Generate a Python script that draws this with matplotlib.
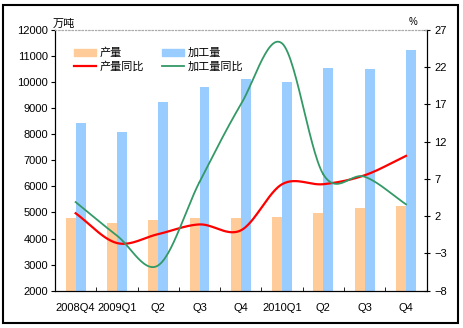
import numpy as np
import matplotlib.pyplot as plt
from matplotlib.patches import Rectangle
from matplotlib.lines import Line2D
from matplotlib.patches import Patch

plt.rcParams['font.family'] = ['Liberation Sans', 'Noto Sans CJK SC', 'DejaVu Sans']
cjk = ['Noto Sans CJK SC', 'DejaVu Sans']

quarters = ['2008Q4', '2009Q1', 'Q2', 'Q3', 'Q4', '2010Q1', 'Q2', 'Q3', 'Q4']
output = [4780, 4590, 4710, 4780, 4780, 4840, 4990, 5160, 5260]          # 产量
processing = [8420, 8080, 9250, 9830, 10110, 10020, 10560, 10490, 11230]  # 加工量
output_yoy = [2.4, -1.6, -0.4, 0.9, 0.1, 6.3, 6.3, 7.5, 10.1]             # 产量同比
processing_yoy = [3.9, -0.6, -4.6, 6.6, 17.0, 25.2, 7.6, 7.3, 3.6]         # 加工量同比


def smooth(x, y, n=30):
    # catmull-rom, roughly what excel does for smoothed lines
    x = np.asarray(x, float)
    y = np.asarray(y, float)
    px = np.concatenate([[2 * x[0] - x[1]], x, [2 * x[-1] - x[-2]]])
    py = np.concatenate([[2 * y[0] - y[1]], y, [2 * y[-1] - y[-2]]])
    xs, ys = [], []
    t = np.linspace(0, 1, n)
    for i in range(1, len(px) - 2):
        for p, out in ((px, xs), (py, ys)):
            p0, p1, p2, p3 = p[i - 1], p[i], p[i + 1], p[i + 2]
            out.extend(0.5 * (2 * p1 + (-p0 + p2) * t
                              + (2 * p0 - 5 * p1 + 4 * p2 - p3) * t ** 2
                              + (-p0 + 3 * p1 - 3 * p2 + p3) * t ** 3))
    return xs, ys


fig = plt.figure(figsize=(4.64, 3.28), dpi=100)
ax = fig.add_axes([0.1185, 0.1137, 0.801, 0.7948])
ax2 = ax.twinx()

x = np.arange(len(quarters))
w = 0.24
ax.bar(x - w, output, width=w, align='edge', color='#FFCC99', zorder=2)
ax.bar(x, processing, width=w, align='edge', color='#99CCFF', zorder=2)

sx, sy = smooth(x, output_yoy)
ax2.plot(sx, sy, color='#FF0000', lw=1.6)
sx, sy = smooth(x, processing_yoy)
ax2.plot(sx, sy, color='#339966', lw=1.3)

ax.set_xlim(-0.5, len(quarters) - 0.5)
ax.set_ylim(2000, 12000)
ax.set_yticks(range(2000, 12001, 1000))
ax2.set_ylim(-8, 27)
ax2.set_yticks(range(-8, 28, 5))

ax.set_xticks(x)
ax.set_xticklabels(quarters)
ax.set_xticks(np.arange(-0.5, len(quarters)), minor=True)
ax.tick_params(axis='x', which='major', length=0, labelsize=8, pad=9)
ax.tick_params(axis='x', which='minor', direction='in', length=3)
ax.tick_params(axis='y', direction='out', length=3, labelsize=8, pad=2)
ax2.tick_params(axis='y', direction='inout', length=5, labelsize=8, pad=3)

for a in (ax, ax2):
    a.spines['top'].set_linestyle((0, (1, 2)))
    a.spines['top'].set_color('#AAAAAA')
    a.spines['top'].set_linewidth(0.8)

ax.text(-0.005, 1.005, '万吨', transform=ax.transAxes, fontsize=8, family=cjk,
        ha='left', va='bottom')
ax2.text(0.963, 1.01, '%', transform=ax2.transAxes, fontsize=7, ha='center', va='bottom')

handles = [Patch(color='#FFCC99'), Line2D([], [], color='#FF0000', lw=1.6),
           Patch(color='#99CCFF'), Line2D([], [], color='#339966', lw=1.3)]
labels = ['产量', '产量同比', '加工量', '加工量同比']
ax.legend(handles, labels, ncol=2, loc='upper left', bbox_to_anchor=(0.025, 0.97),
          frameon=False, prop={'family': cjk, 'size': 8}, handlelength=2.0,
          handleheight=0.6, columnspacing=1.6, labelspacing=0.25, handletextpad=0.3)

fig.patches.append(Rectangle((3 / 464, 5 / 328), 455 / 464, 318 / 328,
                             transform=fig.transFigure, fill=False, lw=1.5,
                             edgecolor='black'))

fig.savefig('out.png', dpi=100)
